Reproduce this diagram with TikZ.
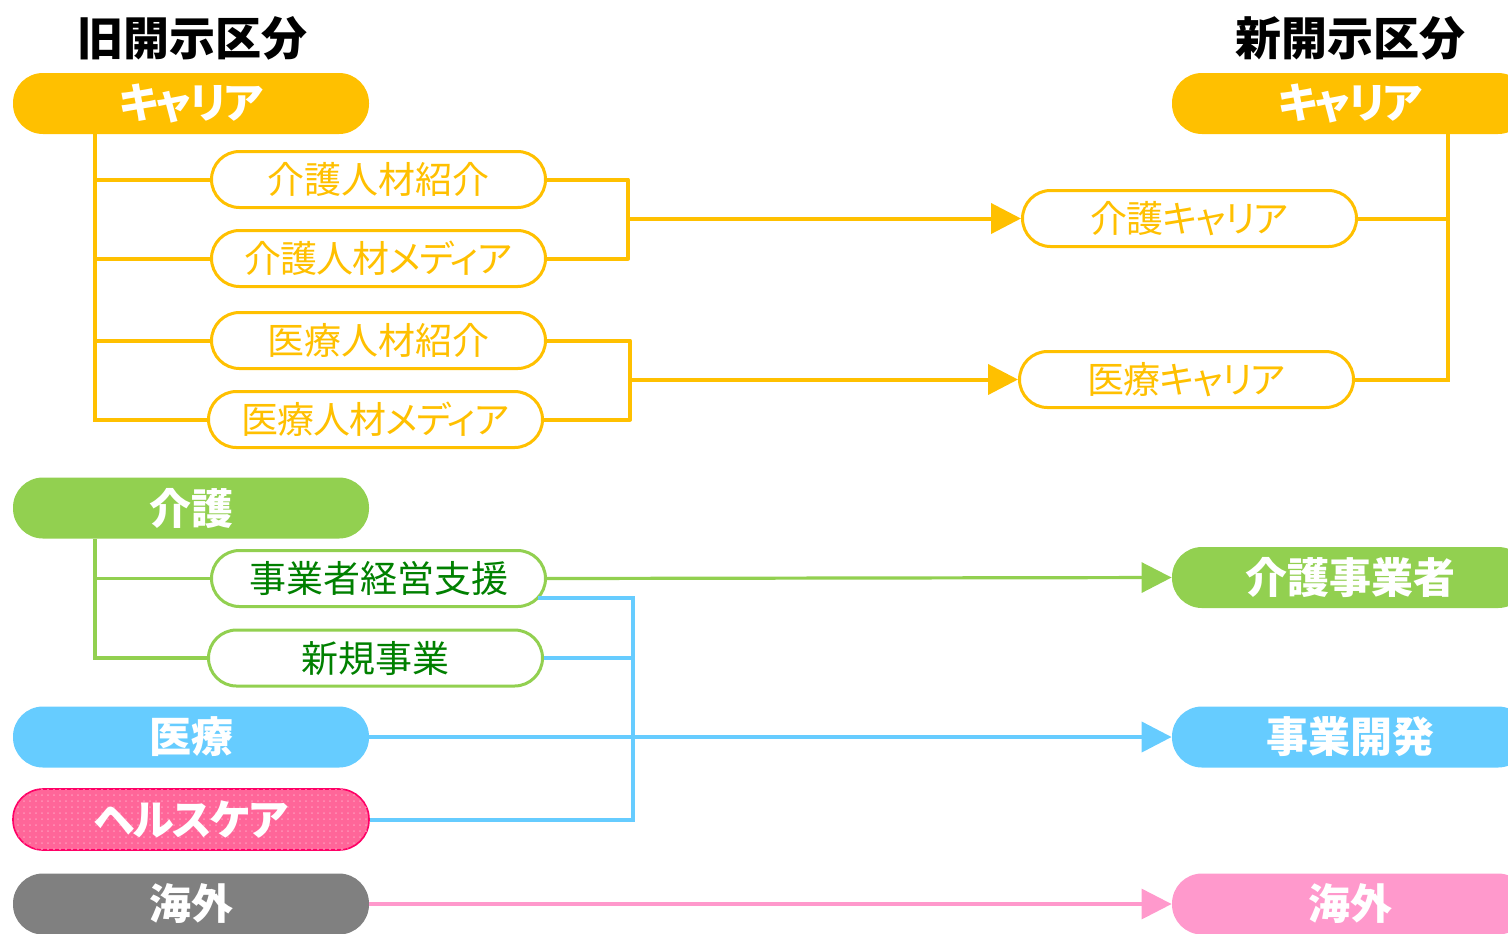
\documentclass[tikz,border=0pt]{standalone}
\usepackage{fontspec}
\setmainfont{Noto Sans CJK JP}[RawFeature=+palt]
\usetikzlibrary{arrows.meta,patterns}
\definecolor{cy}{HTML}{FFC000}
\definecolor{cg}{HTML}{92D050}
\definecolor{cb}{HTML}{66CCFF}
\definecolor{cp}{HTML}{FF6699}
\definecolor{cpb}{HTML}{FF0066}
\definecolor{cgray}{HTML}{808080}
\definecolor{cpk}{HTML}{FF99CC}
\definecolor{cdg}{HTML}{008000}
\tikzset{
  mainbox/.style={rectangle, rounded corners=15pt, minimum width=178pt, minimum height=30.5pt,
    text=white, font=\bfseries\fontsize{21}{24}\selectfont, inner sep=0pt},
  subbox/.style={rectangle, rounded corners=14pt, draw, line width=1.5pt, fill=white,
    minimum width=167pt, minimum height=28pt, font=\fontsize{18.5}{22}\selectfont, inner sep=0pt},
  kana/.style={font=\bfseries\fontsize{21}{24}\selectfont\addfontfeature{LetterSpace=-4}},
  skana/.style={font=\fontsize{18.5}{22}\selectfont\addfontfeature{LetterSpace=-3}},
  title/.style={font=\bfseries\fontsize{23}{26}\selectfont, text=black},
  arr/.style={-{Triangle[length=15pt,width=15pt]}},
  yl/.style={draw=cy, line width=2pt},
  gl/.style={draw=cg, line width=1.6pt},
  bl/.style={draw=cb, line width=2pt},
  pl/.style={draw=cpk, line width=1.6pt},
}
\begin{document}
\begin{tikzpicture}[x=0.5pt,y=-0.5pt]
\useasboundingbox (0,0) rectangle (1508,933);
% titles
\node[title] (t1) at (192,38) {旧開示区分};
\node[title] (t2) at (1350,38) {新開示区分};
% left main
\node[mainbox, kana, fill=cy] (cL) at (191,103.5) {キャリア};
\node[mainbox, fill=cg] (kaigoL) at (191,508) {介護};
\node[mainbox, fill=cb] (iryoL) at (191,737) {医療};
\node[mainbox, kana, fill=cp, draw=cpb, line width=0.8pt,
  postaction={pattern=dots, pattern color=white!30!cp}] (hcL) at (191,819.5) {ヘルスケア};
\node[mainbox, fill=cgray] (kaigaiL) at (191,904) {海外};
% right main
\node[mainbox, kana, fill=cy] (cR) at (1350,103.5) {キャリア};
\node[mainbox, fill=cg] (kjR) at (1350,577.5) {介護事業者};
\node[mainbox, fill=cb] (jkR) at (1350,737) {事業開発};
\node[mainbox, fill=cpk] (kgR) at (1350,904) {海外};
% yellow subs
\node[subbox, draw=cy, text=cy] (s1) at (378.5,179.5) {介護人材紹介};
\node[subbox, skana, draw=cy, text=cy] (s2) at (378.5,258.5) {介護人材メディア};
\node[subbox, draw=cy, text=cy] (s3) at (378.5,340.5) {医療人材紹介};
\node[subbox, skana, draw=cy, text=cy] (s4) at (375.5,419.5) {医療人材メディア};
\node[subbox, skana, draw=cy, text=cy] (r1) at (1189.5,218.5) {介護キャリア};
\node[subbox, skana, draw=cy, text=cy] (r2) at (1186.5,379.5) {医療キャリア};
% green subs
\node[subbox, draw=cg, text=cdg] (g1) at (378.5,578.5) {事業者経営支援};
\node[subbox, draw=cg, text=cdg] (g2) at (375.5,658) {新規事業};
% helper coordinates
\coordinate (tx) at (95,0);
\coordinate (b1) at (628,218.5);
\coordinate (b2) at (630,379.5);
\coordinate (rx) at (1448,0);
\coordinate (bx) at (633,0);
% yellow tree left
\draw[yl] (tx |- cL.south) -- (tx |- s4.west) -- (s4.west);
\draw[yl] (tx |- s1.west) -- (s1.west);
\draw[yl] (tx |- s2.west) -- (s2.west);
\draw[yl] (tx |- s3.west) -- (s3.west);
% yellow brackets
\draw[yl, line join=round] (s1.east) -- (s1.east -| b1) -- (s2.east -| b1) -- (s2.east);
\draw[yl, arr, fill=cy] (b1) -- (r1.west);
\draw[yl, line join=round] (s3.east) -- (s3.east -| b2) -- (s4.east -| b2) -- (s4.east);
\draw[yl, arr, fill=cy] (b2) -- (r2.west);
% yellow tree right
\draw[yl] (rx |- cR.south) -- (rx |- r2.east) -- (r2.east);
\draw[yl] (r1.east) -- (r1.east -| rx);
% green tree
\draw[gl] (tx |- kaigoL.south) -- (tx |- g2.west) -- (g2.west);
\draw[gl] (tx |- g1.west) -- (g1.west);
\draw[gl, arr] (g1.east) -- (kjR.west);
% blue
\draw[bl] ([shift={(-9,-10)}]g1.south east) coordinate (bs) -- (bs -| bx) -- (bx |- hcL.east) -- (hcL.east);
\draw[bl] (g2.east) -- (g2.east -| bx);
\draw[bl, arr] (iryoL.east) -- (jkR.west);
% pink
\draw[pl, arr] (kaigaiL.east) -- (kgR.west);
\end{tikzpicture}
\end{document}
